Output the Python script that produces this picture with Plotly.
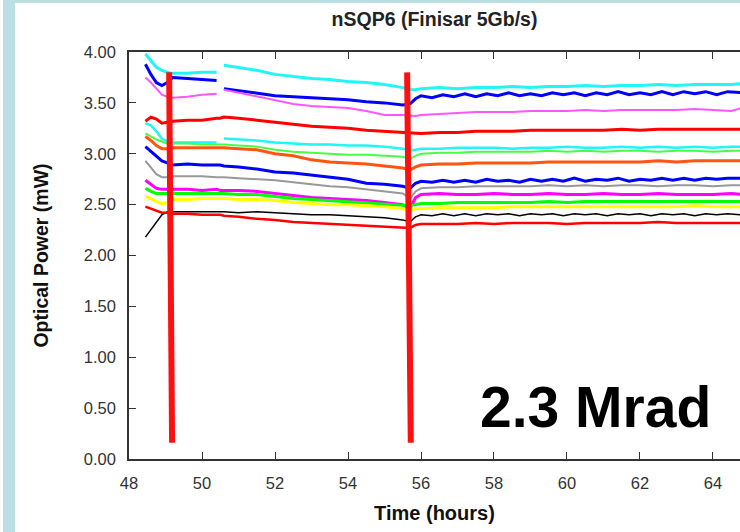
import plotly.graph_objects as go

# ---- data ----
time_h = [48.45, 48.6, 48.75, 48.9, 49.05, 49.2, 49.6, 50.0, 50.4, 50.5, 50.6, 51.0, 51.5, 52.0, 52.5,
          53.0, 53.5, 54.0, 54.5, 55.0, 55.5, 55.7, 55.85, 56.0, 56.5, 57.0, 57.5, 58.0, 58.5, 59.0,
          59.5, 60.0, 60.5, 61.0, 61.5, 62.0, 62.5, 63.0, 63.5, 64.0, 64.5, 64.8]
late_time = [56.0, 56.3, 56.6, 56.9, 57.2, 57.5, 57.8, 58.1, 58.4, 58.7, 59.0, 59.3, 59.6, 59.9, 60.2,
             60.5, 60.8, 61.1, 61.4, 61.7, 62.0, 62.3, 62.6, 62.9, 63.2, 63.5, 63.8, 64.1, 64.4, 64.8]

cyan_a = [3.98, 3.92, 3.85, 3.82, 3.80, 3.79, 3.79, 3.80, 3.80, None,
          3.87, 3.85, 3.82, 3.78, 3.76, 3.74, 3.73, 3.71, 3.70, 3.68, 3.65,
          3.63, 3.63, 3.64, 3.65, 3.64, 3.65, 3.65, 3.66, 3.65, 3.66, 3.66, 3.67, 3.66, 3.67, 3.67, 3.68, 3.67, 3.68, 3.68, 3.68, 3.69]
blue_a = [3.88, 3.78, 3.70, 3.67, 3.70, 3.75, 3.74, 3.73, 3.72, None,
          3.64, 3.62, 3.59, 3.57, 3.56, 3.55, 3.54, 3.53, 3.51, 3.50, 3.48,
          3.49, 3.54]
blue_a_late = [3.57, 3.55, 3.58, 3.56, 3.59, 3.56, 3.59, 3.57, 3.60, 3.57, 3.59, 3.57, 3.60, 3.58, 3.60,
               3.57, 3.60, 3.58, 3.61, 3.58, 3.60, 3.58, 3.61, 3.58, 3.61, 3.59, 3.61, 3.58, 3.61, 3.60]
violet_a = [3.75, 3.70, 3.64, 3.58, 3.56, 3.55, 3.56, 3.58, 3.59, None,
            3.63, 3.60, 3.56, 3.52, 3.49, 3.47, 3.46, 3.45, 3.42, 3.38, 3.38,
            3.37, 3.37, 3.38, 3.39, 3.40, 3.41, 3.41, 3.41, 3.42, 3.42, 3.42, 3.43, 3.42, 3.43, 3.43, 3.43, 3.43, 3.44, 3.43, 3.42, 3.45]
red_a = [3.32, 3.36, 3.34, 3.30, 3.31, 3.32, 3.33, 3.33, 3.35, 3.35,
         3.36, 3.35, 3.33, 3.31, 3.29, 3.27, 3.26, 3.25, 3.23, 3.22, 3.21,
         3.20, 3.20, 3.20, 3.21, 3.21, 3.22, 3.22, 3.22, 3.23, 3.23, 3.23, 3.23, 3.23, 3.24, 3.23, 3.24, 3.24, 3.24, 3.24, 3.24, 3.24]
cyan_b = [3.30, 3.28, 3.22, 3.15, 3.12, 3.11, 3.11, 3.11, 3.11, None,
          3.15, 3.14, 3.13, 3.11, 3.10, 3.09, 3.09, 3.08, 3.08, 3.07, 3.05,
          3.03, 3.04, 3.05, 3.05, 3.06, 3.06, 3.06, 3.05, 3.06, 3.06, 3.07, 3.06, 3.06, 3.07, 3.06, 3.07, 3.06, 3.07, 3.06, 3.07, 3.07]
green_a = [3.20, 3.17, 3.14, 3.12, 3.10, 3.10, 3.10, 3.09, 3.09, 3.09,
           3.09, 3.08, 3.07, 3.04, 3.02, 3.01, 3.00, 2.99, 2.99, 2.98, 2.97,
           2.95, 2.98, 3.00, 3.01, 3.01, 3.02, 3.02, 3.02, 3.02, 3.03, 3.02, 3.03, 3.02, 3.03, 3.03, 3.02, 3.03, 3.03, 3.02, 3.03, 3.03]
orange_a = [3.17, 3.13, 3.08, 3.05, 3.05, 3.06, 3.06, 3.06, 3.06, 3.06,
            3.06, 3.05, 3.04, 3.00, 2.98, 2.94, 2.92, 2.91, 2.90, 2.88, 2.86,
            2.84, 2.87, 2.89, 2.90, 2.90, 2.91, 2.91, 2.91, 2.91, 2.92, 2.92, 2.92, 2.92, 2.92, 2.92, 2.93, 2.92, 2.93, 2.93, 2.93, 2.93]
blue_b = [3.07, 3.02, 2.97, 2.93, 2.91, 2.89, 2.90, 2.89, 2.89, 2.89,
          2.88, 2.87, 2.85, 2.82, 2.81, 2.79, 2.77, 2.75, 2.71, 2.70, 2.68,
          2.66, 2.71]
blue_b_late = [2.73, 2.72, 2.74, 2.72, 2.74, 2.72, 2.75, 2.73, 2.74, 2.72, 2.75, 2.73, 2.75, 2.73, 2.76,
               2.73, 2.75, 2.74, 2.76, 2.73, 2.75, 2.74, 2.76, 2.74, 2.76, 2.74, 2.76, 2.75, 2.76, 2.76]
gray_a = [2.93, 2.86, 2.80, 2.77, 2.77, 2.78, 2.78, 2.78, 2.77, 2.77,
          2.77, 2.76, 2.75, 2.74, 2.72, 2.70, 2.68, 2.67, 2.65, 2.63, 2.61,
          2.56, 2.63, 2.66, 2.67, 2.67, 2.68, 2.68, 2.68, 2.68, 2.69, 2.68, 2.69, 2.68, 2.69, 2.69, 2.68, 2.69, 2.69, 2.68, 2.69, 2.69]
magenta_b = [2.74, 2.70, 2.66, 2.65, 2.65, 2.65, 2.65, 2.64, 2.65, 2.64,
             2.64, 2.64, 2.63, 2.61, 2.59, 2.57, 2.56, 2.55, 2.54, 2.52, 2.50,
             2.46, 2.57, 2.60, 2.61, 2.60, 2.60, 2.61, 2.60, 2.60, 2.61, 2.60, 2.60, 2.61, 2.60, 2.60, 2.61, 2.60, 2.60, 2.60, 2.61, 2.60]
green_b = [2.66, 2.63, 2.61, 2.61, 2.61, 2.61, 2.61, 2.61, 2.61, 2.61,
           2.61, 2.60, 2.60, 2.58, 2.56, 2.55, 2.54, 2.53, 2.52, 2.51, 2.50,
           2.49, 2.50, 2.51, 2.51, 2.52, 2.52, 2.52, 2.52, 2.52, 2.53, 2.52, 2.53, 2.53, 2.53, 2.53, 2.53, 2.53, 2.53, 2.53, 2.53, 2.53]
yellow_a = [2.58, 2.56, 2.53, 2.51, 2.52, 2.55, 2.55, 2.56, 2.56, 2.56,
            2.56, 2.55, 2.55, 2.54, 2.52, 2.51, 2.50, 2.50, 2.49, 2.48, 2.46,
            2.44, 2.46, 2.46, 2.47, 2.47, 2.47, 2.47, 2.48, 2.48, 2.48, 2.48, 2.48, 2.48, 2.48, 2.48, 2.48, 2.48, 2.49, 2.48, 2.48, 2.48]
black_a = [2.18, 2.25, 2.33, 2.40, 2.43, 2.43, 2.43, 2.43, 2.43, 2.43,
           2.43, 2.42, 2.43, 2.42, 2.41, 2.40, 2.40, 2.39, 2.38, 2.37, 2.35,
           2.33, 2.38]
black_a_late = [2.40, 2.39, 2.41, 2.39, 2.41, 2.39, 2.41, 2.40, 2.41, 2.39, 2.41, 2.40, 2.41, 2.39, 2.41,
                2.40, 2.41, 2.39, 2.41, 2.40, 2.41, 2.39, 2.41, 2.40, 2.41, 2.39, 2.41, 2.40, 2.41, 2.40]
red_b = [2.48, 2.46, 2.44, 2.42, 2.42, 2.41, 2.41, 2.40, 2.40, 2.40,
         2.39, 2.38, 2.36, 2.35, 2.33, 2.32, 2.31, 2.30, 2.29, 2.28, 2.27,
         2.27, 2.30, 2.31, 2.31, 2.31, 2.32, 2.31, 2.32, 2.32, 2.32, 2.31, 2.32, 2.32, 2.32, 2.32, 2.33, 2.32, 2.32, 2.32, 2.32, 2.32]

series_names = ["cyan_a", "blue_a", "violet_a", "red_a", "cyan_b", "green_a", "orange_a",
                "blue_b", "gray_a", "magenta_b", "green_b", "yellow_a", "black_a", "red_b"]
series_values = [cyan_a, blue_a, violet_a, red_a, cyan_b, green_a, orange_a,
                 blue_b, gray_a, magenta_b, green_b, yellow_a, black_a, red_b]
series_late = [None, blue_a_late, None, None, None, None, None,
               blue_b_late, None, None, None, None, black_a_late, None]

# dose-marker lines
marker1_x = [49.10, 49.18]
marker1_y = [3.80, 0.16]
marker2_x = [55.62, 55.72]
marker2_y = [3.80, 0.16]

x_ticks = [48, 50, 52, 54, 56, 58, 60, 62, 64]
y_ticks = [0.0, 0.5, 1.0, 1.5, 2.0, 2.5, 3.0, 3.5, 4.0]

# ---- styles ----
colors = ["#22F5F5", "#0000FF", "#FF55FF", "#FF0000", "#22F5F5", "#44FF44", "#FF5511",
          "#0000FF", "#999999", "#FF00FF", "#00FF00", "#FFFF00", "#000000", "#FF0000"]
widths = [3, 3, 2, 3, 2.5, 2, 3, 3, 2, 3, 3, 3, 1.5, 2.5]

fig = go.Figure()
for name, vals, late, c, w in zip(series_names, series_values, series_late, colors, widths):
    if late is None:
        xs, ys = time_h, vals
    else:
        xs, ys = time_h[:len(vals)] + late_time, vals + late
    fig.add_trace(go.Scatter(x=xs, y=ys, mode="lines", name=name,
                             line=dict(color=c, width=w), connectgaps=False, showlegend=False))

for mx, my in [(marker1_x, marker1_y), (marker2_x, marker2_y)]:
    fig.add_trace(go.Scatter(x=mx, y=my, mode="lines", line=dict(color="#FF1010", width=6),
                             showlegend=False))

font_family = "Liberation Sans, Arial, sans-serif"

fig.update_layout(
    width=740, height=532,
    margin=dict(l=129, r=0, t=52, b=73),
    paper_bgcolor="white", plot_bgcolor="white",
    title=dict(text="<b>nSQP6 (Finisar 5Gb/s)</b>", xref="paper", x=0.5, xanchor="center",
               y=1 - 19 / 532, yanchor="middle",
               font=dict(family=font_family, size=19.5, color="#222222")),
    xaxis=dict(range=[48, 64.74], tickvals=x_ticks, ticktext=[str(v) for v in x_ticks],
               showgrid=False, zeroline=False, showline=True, linecolor="#333333", linewidth=1.5,
               mirror="ticks", ticks="inside", ticklen=7, tickcolor="#333333",
               tickfont=dict(family=font_family, size=16.5, color="#333333"),
               ticklabelstandoff=8,
               title=dict(text="<b>Time (hours)</b>", standoff=15,
                          font=dict(family=font_family, size=20, color="#111111"))),
    yaxis=dict(range=[0, 4], tickvals=y_ticks, ticktext=["%.2f" % v for v in y_ticks],
               showgrid=False, zeroline=False, showline=True, linecolor="#333333", linewidth=1.5,
               ticks="inside", ticklen=7, tickcolor="#333333",
               tickfont=dict(family=font_family, size=16.5, color="#333333"),
               ticklabelstandoff=8,
               title=dict(text="<b>Optical Power (mW)</b>", standoff=30,
                          font=dict(family=font_family, size=19.5, color="#111111"))),
    shapes=[
        dict(type="rect", xref="paper", yref="paper", x0=(3 - 129) / 611, x1=(15 - 129) / 611,
             y0=-73 / 407, y1=52 / 407 + 1, fillcolor="#BBDFE3", line=dict(width=0), layer="below"),
        dict(type="rect", xref="paper", yref="paper", x0=(3 - 129) / 611, x1=1,
             y0=1 + 49 / 407, y1=1 + 52 / 407, fillcolor="#BBDFE3", line=dict(width=0), layer="below"),
    ],
    annotations=[
        dict(text="<b>2.3 Mrad</b>", xref="paper", yref="paper",
             x=(595 - 129) / 611, y=(459 - 407) / 407, xanchor="center", yanchor="middle",
             showarrow=False, font=dict(family=font_family, size=57, color="black"))
    ],
)

fig.write_html("out.html", config={"displayModeBar": False},
               post_script="document.body.style.margin='0';")
